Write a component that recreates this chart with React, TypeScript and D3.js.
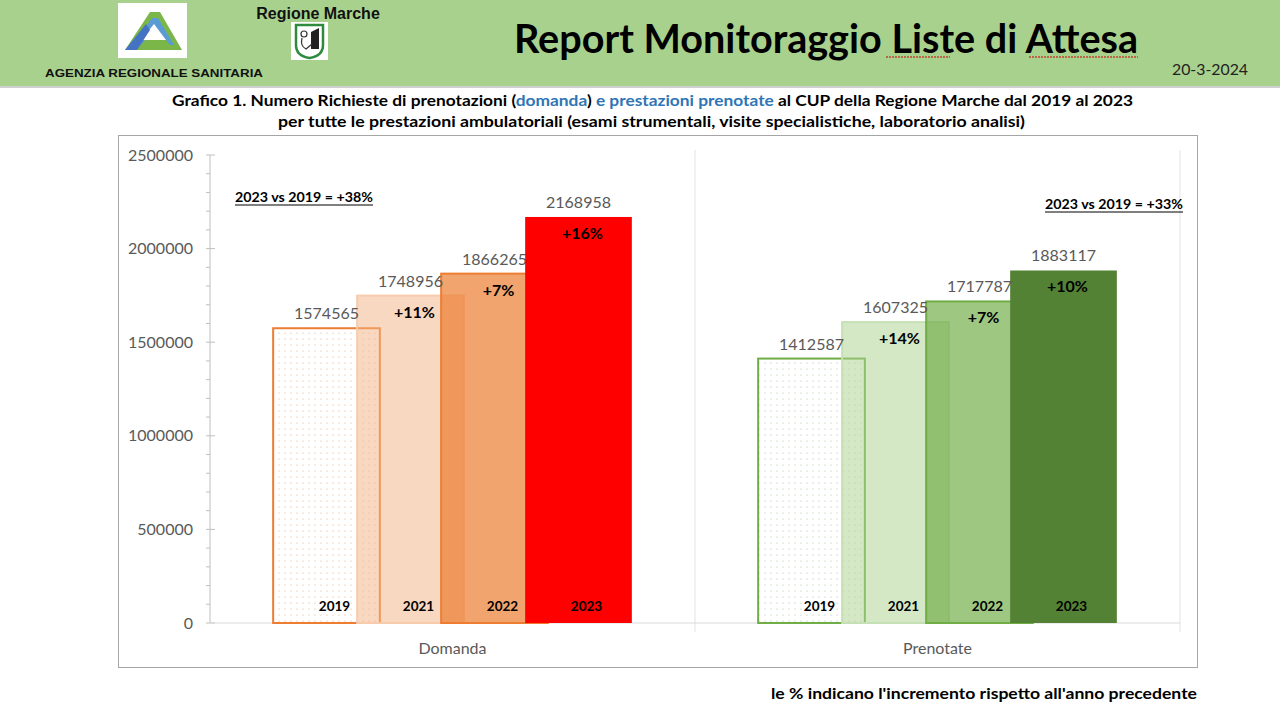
import * as d3 from 'd3';

const years = ['2019', '2021', '2022', '2023'];
const categories = ['Domanda', 'Prenotate'];
const domandaValues = [1574565, 1748956, 1866265, 2168958];
const prenotateValues = [1412587, 1607325, 1717787, 1883117];
const domandaPct = ['', '+11%', '+7%', '+16%'];
const prenotatePct = ['', '+14%', '+7%', '+10%'];
const summaryLabels = ['2023 vs 2019 = +38%', '2023 vs 2019 = +33%'];
const yTicks = [0, 500000, 1000000, 1500000, 2000000, 2500000];

// styles per series (index follows years)
const palettes = [
  {
    fill: ['url(#dotsO)', '#f4b183', '#ed7d31', '#ff0000'],
    opacity: [1, 0.5, 0.7, 1],
    stroke: ['#ed7d31', '#f8cbad', '#ed7d31', 'none'],
  },
  {
    fill: ['url(#dotsG)', '#a9d18e', '#70ad47', '#548235'],
    opacity: [1, 0.5, 0.68, 1],
    stroke: ['#70ad47', '#c5e0b4', '#70ad47', 'none'],
  },
];

const FONT = 'Lato, "Open Sans", sans-serif';
const GRAY = '#595959';

export default function App() {
  const W = 1280;
  const H = 717;
  const plot = { left: 210, right: 1180, top: 155, bottom: 623 };

  const y = d3.scaleLinear().domain([0, 2500000]).range([plot.bottom, plot.top]);
  const minorTicks = d3.range(0, 2500001, 100000);
  const x = d3.scaleBand<string>().domain(categories).range([plot.left, plot.right]);
  const groupW = 336;
  const inner = d3.scaleBand<string>().domain(years).range([0, groupW]);
  const barW = inner.bandwidth() * 1.27;

  const series = [domandaValues, prenotateValues];
  const pcts = [domandaPct, prenotatePct];

  const barCenter = (cat: string, yr: string) =>
    (x(cat) as number) + (x.bandwidth() - groupW) / 2 + (inner(yr) as number) + inner.bandwidth() / 2;

  return (
    <div style={{ position: 'absolute', left: 0, top: 0 }}>
      <svg width={W} height={H} style={{ display: 'block', background: '#fff' }} fontFamily={FONT}>
        <defs>
          <pattern id="dotsO" width={6} height={6} patternUnits="userSpaceOnUse">
            <rect width={6} height={6} fill="#fff" />
            <circle cx={3} cy={3} r={0.6} fill="#e8a57a" />
          </pattern>
          <pattern id="dotsG" width={6} height={6} patternUnits="userSpaceOnUse">
            <rect width={6} height={6} fill="#fff" />
            <circle cx={3} cy={3} r={0.6} fill="#a9bf9a" />
          </pattern>
        </defs>

        {/* header band */}
        <rect x={0} y={0} width={W} height={86} fill="#a9d18e" />
        <line x1={0} x2={W} y1={87} y2={87} stroke="#d0d0d0" strokeWidth={2} />

        {/* ARS logo */}
        <rect x={118} y={3} width={69} height={55} fill="#fff" />
        <path d="M125,50 L150,12 L160,12 L182,50 Z" fill="#7ab648" />
        <path d="M133,45 L152,18 L158,18 L174,45 Z" fill="#5b9bd5" />
        <path d="M141,40 L154,24 L166,40 Z" fill="#fff" />
        <path d="M125,50 L137,50 L150,30 L146,24 Z" fill="#4472c4" />
        <path d="M145,40 L166,40 L170,45 L141,45 Z" fill="#7ab648" />

        {/* Regione Marche */}
        <text x={318} y={19} textAnchor="middle" fontFamily="'Liberation Sans', Arial, sans-serif" fontWeight="bold" fontSize={16} fill="#111">
          Regione Marche
        </text>
        <rect x={291} y={22} width={37} height={38} fill="#fff" />
        <path d="M296,25 L323,25 L323,45 Q323,56 309.5,58 Q296,56 296,45 Z" fill="none" stroke="#2e8b3e" strokeWidth={2.5} />
        <path d="M311,32 L319,28 L319,49 L311,49 Z" fill="#222" />
        <circle cx={304} cy={34} r={3} fill="none" stroke="#333" strokeWidth={1.2} />
        <path d="M302,38 Q300,46 306,49 L312,44" fill="none" stroke="#333" strokeWidth={1.2} />

        <text x={45} y={77} fontFamily="'Liberation Sans', Arial, sans-serif" fontWeight="bold" fontSize={11.5} fill="#111" textLength={218} lengthAdjust="spacingAndGlyphs">
          AGENZIA REGIONALE SANITARIA
        </text>

        {/* title */}
        <text x={514} y={53} fontWeight="bold" fontSize={40} fill="#000" textLength={624} lengthAdjust="spacingAndGlyphs">
          Report Monitoraggio Liste di Attesa
        </text>
        <line x1={886} x2={950} y1={57} y2={57} stroke="#c00000" strokeWidth={1} strokeDasharray="2,1" />
        <line x1={1029} x2={1138} y1={57} y2={57} stroke="#c00000" strokeWidth={1} strokeDasharray="2,1" />
        <text x={1172} y={75} fontSize={16} fill="#222" textLength={76} lengthAdjust="spacingAndGlyphs">
          20-3-2024
        </text>

        {/* subtitle */}
        <text x={172} y={106} fontWeight="bold" fontSize={15} fill="#000" textLength={961} lengthAdjust="spacingAndGlyphs">
          <tspan>Grafico 1. Numero Richieste di prenotazioni (</tspan>
          <tspan fill="#2e75b6">domanda</tspan>
          <tspan>)</tspan>
          <tspan fill="#2e75b6"> e prestazioni prenotate</tspan>
          <tspan> al CUP della Regione Marche dal 2019 al 2023</tspan>
        </text>
        <text x={278} y={127} fontWeight="bold" fontSize={15} fill="#000" textLength={747} lengthAdjust="spacingAndGlyphs">
          per tutte le prestazioni ambulatoriali (esami strumentali, visite specialistiche, laboratorio analisi)
        </text>

        {/* chart frame */}
        <rect x={118.5} y={135.5} width={1079} height={532} fill="#fff" stroke="#a6a6a6" strokeWidth={1} />

        {/* vertical category separators */}
        {[x.bandwidth() + (x(categories[0]) as number), plot.right].map((v, i) => (
          <line key={i} x1={v} x2={v} y1={plot.top - 5} y2={plot.bottom + 9} stroke="#e3e3e3" strokeWidth={1} />
        ))}

        {/* y axis */}
        <line x1={plot.left} x2={plot.left} y1={plot.top} y2={plot.bottom} stroke="#bfbfbf" />
        {minorTicks.map((t) => (
          <line key={t} x1={206} x2={t % 500000 === 0 ? 215 : 210} y1={y(t)} y2={y(t)} stroke="#bfbfbf" />
        ))}
        {yTicks.map((t) => (
          <text key={t} x={193} y={y(t)} dy="0.35em" textAnchor="end" fontSize={16} fill={GRAY}>
            {t}
          </text>
        ))}

        {/* x axis */}
        <line x1={plot.left} x2={plot.right} y1={plot.bottom} y2={plot.bottom} stroke="#d9d9d9" />
        {categories.map((c) => (
          <text key={c} x={(x(c) as number) + x.bandwidth() / 2} y={648} dy="0.35em" textAnchor="middle" fontSize={16} fill={GRAY}>
            {c}
          </text>
        ))}

        {/* bars */}
        {categories.map((c, si) =>
          years.map((yr, i) => {
            const v = series[si][i];
            const cx = barCenter(c, yr);
            const p = palettes[si];
            return (
              <rect
                key={c + yr}
                x={cx - barW / 2}
                y={y(v)}
                width={barW}
                height={plot.bottom - y(v)}
                fill={p.fill[i]}
                fillOpacity={p.opacity[i]}
                stroke={p.stroke[i]}
                strokeWidth={p.stroke[i] === 'none' ? 0 : 2}
              />
            );
          })
        )}

        {/* labels */}
        {categories.map((c, si) =>
          years.map((yr, i) => {
            const v = series[si][i];
            const cx = barCenter(c, yr);
            return (
              <g key={'l' + c + yr}>
                <text x={cx} y={y(v) - 9} textAnchor="middle" fontSize={16} fill={GRAY}>
                  {v}
                </text>
                {pcts[si][i] && (
                  <text x={cx + 4} y={y(v) + 22} textAnchor="middle" fontSize={16} fontWeight="bold" fill="#000">
                    {pcts[si][i]}
                  </text>
                )}
                <text x={cx + 8} y={611} textAnchor="middle" fontSize={13.5} fontWeight="bold" fill="#000">
                  {yr}
                </text>
              </g>
            );
          })
        )}

        {/* summary annotations */}
        {[
          { t: summaryLabels[0], x0: 235, y0: 202 },
          { t: summaryLabels[1], x0: 1045, y0: 209 },
        ].map((s, i) => (
          <g key={i}>
            <text x={s.x0} y={s.y0} fontSize={13} fontWeight="bold" fill="#000" textLength={138} lengthAdjust="spacingAndGlyphs">
              {s.t}
            </text>
            <line x1={s.x0} x2={s.x0 + 138} y1={s.y0 + 3} y2={s.y0 + 3} stroke="#000" strokeWidth={1} />
          </g>
        ))}

        {/* footer */}
        <text x={771} y={699} fontSize={16} fontWeight="bold" fill="#000" textLength={426} lengthAdjust="spacingAndGlyphs">
          le % indicano l'incremento rispetto all'anno precedente
        </text>
      </svg>
    </div>
  );
}
